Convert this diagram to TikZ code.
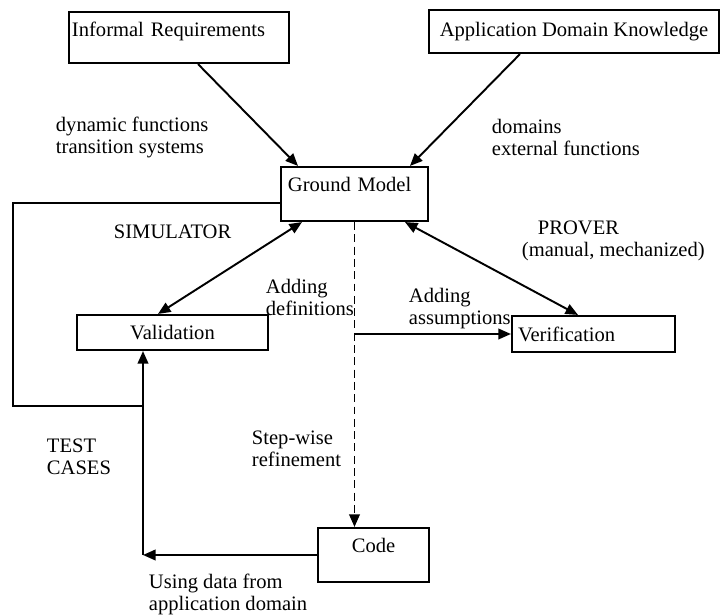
\documentclass[tikz,border=0pt]{standalone}
\usepackage{fontspec}
\setmainfont{Liberation Serif}
\usetikzlibrary{arrows.meta}

\begin{document}
\begin{tikzpicture}
	[line width=1.1pt, >={Triangle[length=0.25cm,width=0.21cm]},
	every node/.style={font=\fontsize{11.7}{12.5}\selectfont},
	box/.style={draw,rectangle,inner sep=0pt,line width=1.2pt},
	note/.style={align=left,anchor=west,inner sep=0pt}]
	\useasboundingbox (0,0) rectangle (14.42,12.32);
	% boxes
	\node (ir) [box,minimum width=4.4cm,minimum height=1.02cm,text width=4.28cm,align=left,text depth=0.31cm] at (3.58,11.57) {Informal Requirements};
	\node (ad) [box,minimum width=5.8cm,minimum height=0.86cm] at (11.48,11.69) {Application Domain Knowledge};
	\node (gm) [box,minimum width=2.94cm,minimum height=1.08cm,text width=2.66cm,align=left,text depth=0.37cm] at (7.09,8.44) {Ground Model};
	\node (val) [box,minimum width=3.82cm,minimum height=0.7cm] at (3.45,5.67) {Validation};
	\node (ver) [box,minimum width=3.26cm,minimum height=0.72cm,text width=3.02cm,align=left] at (11.87,5.64) {Verification};
	\node (code) [box,minimum width=2.22cm,minimum height=1.08cm,text depth=0.37cm] at (7.47,1.22) {Code};
	% labels
	\node (dyn) [note] at (1.1,9.57) {dynamic functions\\transition systems};
	\node (dom) [note] at (9.82,9.57) {domains\\external functions};
	\node (sim) [note] at (2.26,7.68) {SIMULATOR};
	\node (prov) [note] at (10.42,7.5) {\hspace{0.32cm}PROVER\\(manual, mechanized)};
	\node (adddef) [note] at (5.3,6.37) {Adding\\definitions};
	\node (addass) [note] at (8.16,6.15) {Adding\\assumptions};
	\node (test) [note] at (0.92,3.19) {TEST\\CASES};
	\node (step) [note] at (5.02,3.35) {Step-wise\\refinement};
	\node (using) [note] at (2.96,0.44) {Using data from\\application domain};
	% arrows
	\draw [->] ([xshift=0.38cm]ir.south) -- ([xshift=-1.13cm]gm.north);
	\draw [->] ([xshift=-1.08cm]ad.south) -- ([xshift=1.11cm]gm.north);
	\draw [<->] ([xshift=-1.05cm]gm.south) -- ([xshift=-0.29cm]val.north);
	\draw [<->] ([xshift=1.01cm]gm.south) -- ([xshift=-0.31cm]ver.north);
	\draw [dash pattern=on 4.5pt off 2.5pt,->] (gm.south) -- (gm.south |- code.north);
	\draw [->] (gm.south |- ver.west) -- (ver.west);
	\coordinate (join) at (2.86,4.2);
	\draw ([yshift=-0.18cm]gm.west) -| (0.26,4.2) -- (join);
	\draw [->] (code.west) -- (code.west -| join);
	\draw [->] (code.west -| join) -- (join |- val.south);
\end{tikzpicture}
\end{document}
